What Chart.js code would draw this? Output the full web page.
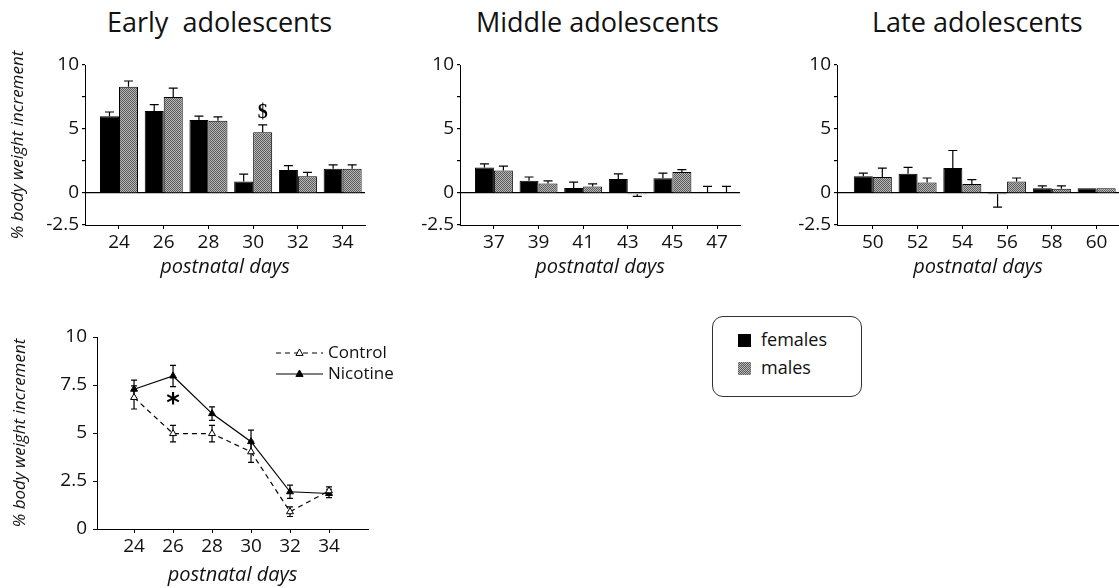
<!DOCTYPE html>
<html>
<head>
<meta charset="utf-8">
<script src="https://cdn.jsdelivr.net/npm/chart.js@4.4.0/dist/chart.umd.min.js"></script>
<style>
body { margin: 0; background: #fff; width: 1119px; height: 588px; position: relative; overflow: hidden; font-family: "Open Sans", sans-serif; color: #111; }
canvas { position: absolute; }
.title { position: absolute; top: 5px; font-size: 27px; line-height: 34px; white-space: pre; }
#barLegend { position: absolute; left: 712px; top: 316px; width: 148px; height: 79px; border: 1px solid #333; border-radius: 11px; font-size: 18px; }
#barLegend div { position: absolute; left: 25px; height: 24px; line-height: 24px; }
#barLegend span { display: inline-block; width: 13px; height: 13px; margin-right: 10px; vertical-align: -1px; }
.fem { background: #000; }
.mal { background: repeating-conic-gradient(#5a5a5a 0 25%, #b8b8b8 0 50%) 0 0 / 2px 2px; }
</style>
</head>
<body>
<div class="title" style="left:107px">Early  adolescents</div>
<div class="title" style="left:476px">Middle adolescents</div>
<div class="title" style="left:872px">Late adolescents</div>

<canvas id="early" style="left:0px;top:40px"></canvas>
<canvas id="middle" style="left:380px;top:40px"></canvas>
<canvas id="late" style="left:760px;top:40px"></canvas>
<canvas id="line" style="left:0px;top:300px"></canvas>

<div id="barLegend">
  <div style="top:10px"><span class="fem"></span>females</div>
  <div style="top:38px"><span class="mal"></span>males</div>
</div>

<script>
// early adolescents (PND 24-34)
const earlyDays = [24, 26, 28, 30, 32, 34];
const earlyFemales = [6.0, 6.4, 5.7, 0.9, 1.8, 1.9];
const earlyFemalesErr = [0.33, 0.5, 0.3, 0.57, 0.34, 0.3];
const earlyMales = [8.3, 7.5, 5.65, 4.75, 1.3, 1.9];
const earlyMalesErr = [0.45, 0.7, 0.3, 0.57, 0.31, 0.3];

// middle adolescents (PND 37-47)
const middleDays = [37, 39, 41, 43, 45, 47];
const middleFemales = [2.0, 0.95, 0.4, 1.1, 1.15, 0];
const middleFemalesErr = [0.27, 0.3, 0.45, 0.4, 0.4, 0.52];
const middleMales = [1.75, 0.75, 0.5, -0.1, 1.65, 0];
const middleMalesErr = [0.35, 0.2, 0.22, 0.16, 0.18, 0.52];

// late adolescents (PND 50-60)
const lateDays = [50, 52, 54, 56, 58, 60];
const lateFemales = [1.3, 1.5, 1.95, -0.1, 0.38, 0.38];
const lateFemalesErr = [0.26, 0.5, 1.37, 1.0, 0.18, 0];
const lateMales = [1.25, 0.83, 0.7, 0.9, 0.33, 0.38];
const lateMalesErr = [0.7, 0.34, 0.34, 0.27, 0.23, 0];

// control vs nicotine, early adolescents
const lineDays = [24, 26, 28, 30, 32, 34];
const control = [6.85, 4.97, 4.97, 4.02, 0.9, 1.99];
const controlErr = [0.6, 0.43, 0.43, 0.55, 0.25, 0.2];
const nicotine = [7.28, 7.97, 6.01, 4.55, 1.94, 1.85];
const nicotineErr = [0.47, 0.55, 0.35, 0.6, 0.35, 0.22];

const barTickLabels = [10, 5, 0, -2.5];
const lineTickLabels = [0, 2.5, 5, 7.5, 10];

Chart.defaults.font.family = '"Open Sans", sans-serif';
Chart.defaults.color = '#111';

// grey dithered fill for the males bars
function makePattern() {
  const c = document.createElement('canvas');
  c.width = 2; c.height = 2;
  const g = c.getContext('2d');
  g.fillStyle = '#b8b8b8'; g.fillRect(0, 0, 2, 2);
  g.fillStyle = '#5a5a5a'; g.fillRect(0, 0, 1, 1); g.fillRect(1, 1, 1, 1);
  return g.createPattern(c, 'repeat');
}
const malePattern = makePattern();

// error whiskers, drawn from each bar/point through the y scale
const errorBars = {
  id: 'errorBars',
  beforeDatasetsDraw(chart, args, opts) {
    const ctx = chart.ctx;
    const y = chart.scales.y;
    ctx.save();
    ctx.strokeStyle = '#000';
    ctx.lineWidth = 1.2;
    chart.data.datasets.forEach((ds, di) => {
      if (!ds.errors) return;
      chart.getDatasetMeta(di).data.forEach((el, i) => {
        const v = ds.data[i], e = ds.errors[i];
        if (!e) return;
        const dir = v < 0 ? -1 : 1;
        const hi = y.getPixelForValue(v + dir * e);
        const lo = opts.twoSided ? y.getPixelForValue(v - e) : y.getPixelForValue(v);
        const cap = opts.cap;
        ctx.beginPath();
        ctx.moveTo(el.x, lo); ctx.lineTo(el.x, hi);
        ctx.moveTo(el.x - cap, hi); ctx.lineTo(el.x + cap, hi);
        if (opts.twoSided) { ctx.moveTo(el.x - cap, lo); ctx.lineTo(el.x + cap, lo); }
        ctx.stroke();
      });
    });
    ctx.restore();
  }
};

// significance marks ($, *)
const marks = {
  id: 'marks',
  afterDatasetsDraw(chart, args, opts) {
    if (!opts.items) return;
    const ctx = chart.ctx;
    ctx.save();
    ctx.fillStyle = '#000';
    ctx.textAlign = 'center';
    ctx.textBaseline = 'middle';
    opts.items.forEach(m => {
      const el = chart.getDatasetMeta(m.dataset).data[m.index];
      ctx.font = m.font;
      ctx.fillText(m.text, el.x, chart.scales.y.getPixelForValue(m.value));
    });
    ctx.restore();
  }
};

// legend with line sample + triangle for the line chart
const lineLegend = {
  id: 'lineLegend',
  afterDraw(chart, args, opts) {
    if (!opts.left) return;
    const ctx = chart.ctx;
    chart.data.datasets.forEach((ds, i) => {
      const y = opts.top + i * opts.row;
      const x0 = opts.left, x1 = opts.left + opts.len, xm = (x0 + x1) / 2;
      ctx.save();
      ctx.strokeStyle = '#000';
      ctx.lineWidth = ds.borderWidth;
      ctx.setLineDash(ds.borderDash || []);
      ctx.beginPath(); ctx.moveTo(x0, y); ctx.lineTo(x1, y); ctx.stroke();
      ctx.setLineDash([]);
      const r = 4;
      ctx.beginPath();
      ctx.moveTo(xm, y - r);
      ctx.lineTo(xm + r * 0.9, y + r * 0.6);
      ctx.lineTo(xm - r * 0.9, y + r * 0.6);
      ctx.closePath();
      ctx.fillStyle = ds.pointBackgroundColor;
      ctx.fill();
      ctx.lineWidth = 1;
      ctx.stroke();
      ctx.fillStyle = '#111';
      ctx.font = opts.font;
      ctx.textBaseline = 'middle';
      ctx.fillText(ds.label, x1 + 5, y);
      ctx.restore();
    });
  }
};

function barChart(id, w, h, yWidth, xHeight, padTop, padRight, days, xmin, xmax, fem, femErr, mal, malErr, withTitle, items) {
  const el = document.getElementById(id);
  el.width = w; el.height = h;
  return new Chart(el, {
    type: 'bar',
    data: {
      labels: days,
      datasets: [
        { label: 'females', data: fem, errors: femErr, backgroundColor: '#000', borderColor: '#000', borderWidth: 1 },
        { label: 'males', data: mal, errors: malErr, backgroundColor: malePattern, borderColor: '#000', borderWidth: 1 }
      ]
    },
    options: {
      responsive: false,
      animation: false,
      events: [],
      layout: { padding: { top: padTop, right: padRight, left: 0, bottom: 0 } },
      datasets: { bar: { categoryPercentage: 0.85, barPercentage: 1.0 } },
      plugins: {
        legend: { display: false },
        tooltip: { enabled: false },
        errorBars: { cap: 4.5, twoSided: false },
        marks: { items: items }
      },
      scales: {
        x: {
          type: 'linear',
          min: xmin, max: xmax,
          offset: false,
          afterFit(s) { s.height = xHeight; },
          afterBuildTicks(s) { s.ticks = days.map(v => ({ value: v })); },
          grid: { offset: false, drawOnChartArea: false, tickLength: 4, tickColor: '#000' },
          border: { display: true, color: '#000', width: 1 },
          ticks: { autoSkip: false, maxRotation: 0, padding: 2, font: { size: 19 }, callback: v => String(v) },
          title: { display: true, text: 'postnatal days', font: { size: 20, style: 'italic' }, padding: { top: 0, bottom: 11 } }
        },
        y: {
          min: -2.5, max: 10,
          afterFit(s) { s.width = yWidth; },
          ticks: { stepSize: 2.5, padding: 3, font: { size: 19 }, callback: v => barTickLabels.includes(v) ? String(v) : '' },
          grid: { tickLength: 3, tickColor: '#000', lineWidth: 1.2, color: c => c.tick && c.tick.value === 0 ? '#000' : 'rgba(0,0,0,0)' },
          border: { display: true, color: '#000', width: 1 },
          title: { display: withTitle, text: '% body weight increment', font: { size: 17, style: 'italic' }, padding: { top: 8 } }
        }
      }
    },
    plugins: [errorBars, marks]
  });
}

barChart('early', 372, 250, 85, 65, 25, 7, earlyDays, 22.48, 35.0,
  earlyFemales, earlyFemalesErr, earlyMales, earlyMalesErr, true,
  [{ dataset: 1, index: 3, value: 6.25, text: '$', font: 'bold 20px "Liberation Serif", serif' }]);
barChart('middle', 362, 250, 80, 65, 25, 2, middleDays, 35.48, 48.03,
  middleFemales, middleFemalesErr, middleMales, middleMalesErr, false, []);
barChart('late', 359, 250, 77, 65, 25, 0, lateDays, 48.4, 61.0,
  lateFemales, lateFemalesErr, lateMales, lateMalesErr, false, []);

const lineEl = document.getElementById('line');
lineEl.width = 420; lineEl.height = 288;
new Chart(lineEl, {
  type: 'line',
  data: {
    labels: lineDays,
    datasets: [
      { label: 'Control', data: control, errors: controlErr, borderColor: '#000', borderWidth: 1.2, borderDash: [5, 4],
        pointStyle: 'triangle', pointRadius: 4, pointBackgroundColor: '#fff', pointBorderColor: '#000', pointBorderWidth: 1, tension: 0 },
      { label: 'Nicotine', data: nicotine, errors: nicotineErr, borderColor: '#000', borderWidth: 1.2,
        pointStyle: 'triangle', pointRadius: 4, pointBackgroundColor: '#000', pointBorderColor: '#000', pointBorderWidth: 1, tension: 0 }
    ]
  },
  options: {
    responsive: false,
    animation: false,
    events: [],
    layout: { padding: { top: 37, right: 52, left: 0, bottom: 0 } },
    plugins: {
      legend: { display: false },
      tooltip: { enabled: false },
      errorBars: { cap: 3, twoSided: true },
      marks: { items: [{ dataset: 0, index: 1, value: 6.45, text: '*', font: 'bold 26px "DejaVu Sans", sans-serif' }] },
      lineLegend: { left: 276, len: 47, top: 53, row: 21, font: '17px "Open Sans", sans-serif' }
    },
    scales: {
      x: {
        type: 'linear',
        min: 22.1, max: 36,
        afterFit(s) { s.height = 59; },
        afterBuildTicks(s) { s.ticks = lineDays.map(v => ({ value: v })); },
        grid: { drawOnChartArea: false, tickLength: 4, tickColor: '#000' },
        border: { display: true, color: '#000', width: 1 },
        ticks: { autoSkip: false, maxRotation: 0, padding: 2, font: { size: 19 }, callback: v => String(v) },
        title: { display: true, text: 'postnatal days', font: { size: 20, style: 'italic' }, padding: { top: 0, bottom: 1 } }
      },
      y: {
        min: 0, max: 10,
        afterFit(s) { s.width = 97; },
        afterBuildTicks(s) { s.ticks = lineTickLabels.map(v => ({ value: v })); },
        ticks: { padding: 6, font: { size: 19 }, callback: v => String(v) },
        grid: { drawOnChartArea: false, tickLength: 4, tickColor: '#000' },
        border: { display: true, color: '#000', width: 1 },
        title: { display: true, text: '% body weight increment', font: { size: 17, style: 'italic' }, padding: { top: 10 } }
      }
    }
  },
  plugins: [errorBars, marks, lineLegend]
});
</script>
</body>
</html>
